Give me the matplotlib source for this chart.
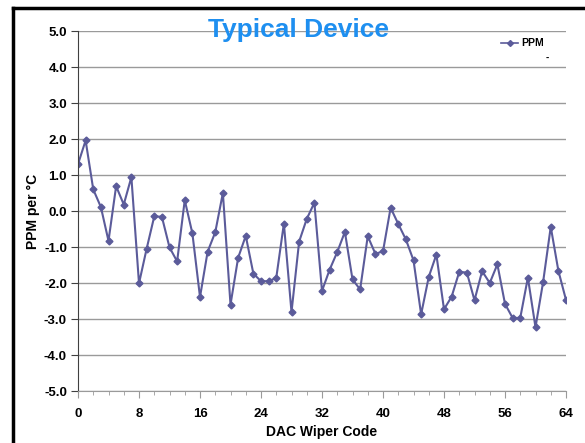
import matplotlib
matplotlib.use("Agg")
import matplotlib.pyplot as plt
from matplotlib.lines import Line2D
from matplotlib.ticker import MultipleLocator

codes = list(range(65))
ppm = [1.30, 1.96, 0.60, 0.11, -0.83, 0.69, 0.18, 0.94, -2.01, -1.05,
       -0.15, -0.16, -1.01, -1.40, 0.30, -0.62, -2.39, -1.13, -0.59, 0.50,
       -2.60, -1.30, -0.69, -1.74, -1.95, -1.95, -1.86, -0.35, -2.81, -0.85,
       -0.22, 0.23, -2.22, -1.63, -1.14, -0.58, -1.90, -2.18, -0.70, -1.19,
       -1.12, 0.09, -0.36, -0.79, -1.37, -2.87, -1.83, -1.21, -2.73, -2.38,
       -1.69, -1.71, -2.48, -1.67, -2.00, -1.48, -2.58, -2.97, -2.97, -1.85,
       -3.23, -1.97, -0.44, -1.66, -2.47]
x_ticks = [0, 8, 16, 24, 32, 40, 48, 56, 64]
y_ticks = [-5, -4, -3, -2, -1, 0, 1, 2, 3, 4, 5]

plt.rcParams['font.family'] = ['Liberation Sans', 'DejaVu Sans']

fig = plt.figure(figsize=(5.85, 4.43), dpi=100)
ax = fig.add_axes([78/585, 1-391/443, (566-78)/585, (391-31)/443])

line_color = '#5B5B9A'
ax.plot(codes, ppm, color=line_color, lw=1.5, marker='D', ms=3.5,
        markerfacecolor=line_color, markeredgecolor=line_color)

ax.set_xlim(0, 64)
ax.set_ylim(-5, 5)
ax.set_xticks(x_ticks)
ax.xaxis.set_minor_locator(MultipleLocator(2))
ax.set_yticks(y_ticks)
ax.set_yticklabels([f"{v:.1f}" for v in y_ticks])
ax.set_xticklabels([str(v) for v in x_ticks])
for lab in ax.get_xticklabels() + ax.get_yticklabels():
    lab.set_fontweight('bold')
    lab.set_fontsize(9.5)

ax.grid(axis='y', color='#9a9a9a', lw=1.0)
ax.set_axisbelow(True)
for s in ['top', 'right']:
    ax.spines[s].set_visible(False)
ax.spines['left'].set_color('#404040')
ax.spines['bottom'].set_color('#9a9a9a')
ax.tick_params(axis='y', direction='out', length=5, color='#404040', pad=3)
ax.tick_params(axis='x', which='major', direction='out', length=5, color='#9a9a9a', pad=7)
ax.tick_params(axis='x', which='minor', direction='out', length=3, color='#9a9a9a')

ax.set_xlabel('DAC Wiper Code', fontsize=10, fontweight='bold', labelpad=4)
ax.set_ylabel('PPM per °C', fontsize=10, fontweight='bold', labelpad=3)

fig.text(298/585, 1-30/443, 'Typical Device', ha='center', va='center',
         fontsize=19, fontweight='bold', color='#1E8FF0')

handle = Line2D([], [], color=line_color, lw=1.2, marker='D', ms=3)
leg = ax.legend([handle], ['PPM'], loc='upper left', bbox_to_anchor=(496/585, 1-33/443),
                bbox_transform=fig.transFigure, frameon=False, handlelength=1.6,
                handletextpad=0.3, borderpad=0, prop={'weight': 'bold', 'size': 7.5})
fig.text(547/585, 1-58/443, '-', ha='center', va='center', fontsize=7, fontweight='bold')

# border lines (left and top)
fig.add_artist(Line2D([13/585, 13/585], [0, 1-8/443], transform=fig.transFigure, color='black', lw=2.5))
fig.add_artist(Line2D([13/585, 1], [1-8/443, 1-8/443], transform=fig.transFigure, color='black', lw=2.5))

fig.savefig('out.png', dpi=100)
